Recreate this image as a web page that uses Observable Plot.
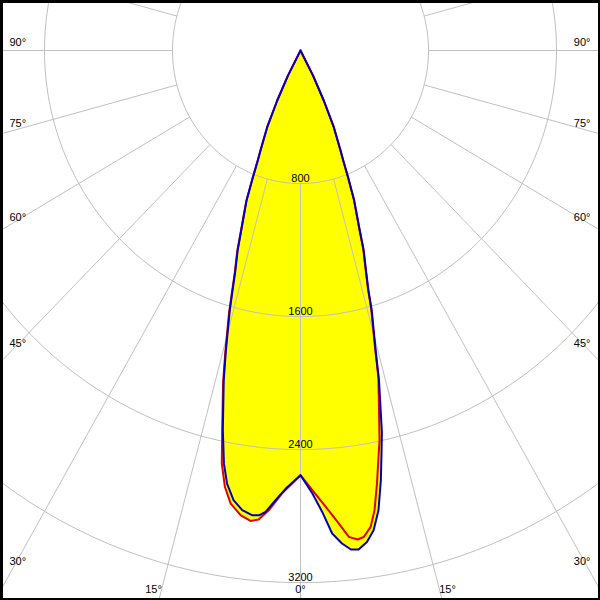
<!DOCTYPE html>
<html><head><meta charset="utf-8">
<script src="https://cdn.jsdelivr.net/npm/d3@7"></script>
<script src="https://cdn.jsdelivr.net/npm/@observablehq/plot@0.6"></script>
<style>html,body{margin:0;padding:0;background:#fff}</style>
</head><body><div id="chart"></div>
<script>
// Luminous intensity (cd) vs. gamma angle (deg), left side negative
const blueAngles = [-90, -27.5, -25.8, -24.3, -22.6, -22, -21.3, -20.5, -18.9, -18.1, -17.1, -16.4, -15.8, -14.5, -13.6, -12, -10.9, -10, -8.8, -7.5, -6.2, -5.3, -4.5, -3.3, -2, 0, 1.6, 2.8, 3.9, 5, 6, 6.9, 8, 9, 10, 11, 11.8, 12.5, 13.9, 14.6, 15.9, 16.4, 17.2, 18.2, 18.9, 20.4, 21.3, 22, 22.6, 24.3, 25.8, 27.5, 90];
const blueValues = [0, 170, 334, 506, 651, 713, 820, 963, 1144, 1264, 1384, 1504, 1624, 1862, 2040, 2335, 2530, 2644, 2736, 2788, 2811, 2807, 2783, 2709, 2636, 2554, 2665, 2778, 2911, 2976, 3017, 3023, 2984, 2921, 2807, 2632, 2476, 2350, 2042, 1863, 1625, 1504, 1384, 1265, 1144, 963, 820, 713, 651, 506, 334, 170, 0];
const redAngles = [-90, -27.5, -25.8, -24.3, -22.6, -22, -21.3, -20.5, -18.9, -18.1, -17.1, -16.4, -15.8, -14.5, -13.6, -12, -11.2, -10.2, -9.1, -7.6, -6.3, -5.3, -4.1, -2.5, 0, 1.6, 3.3, 4.8, 5.9, 6.9, 7.7, 8.7, 9.5, 10.4, 11.4, 11.9, 13.9, 14.6, 15.9, 16.4, 17.2, 18.2, 18.9, 20.4, 21.3, 22, 22.6, 24.3, 25.8, 27.5, 90];
const redValues = [0, 170, 334, 506, 651, 713, 825, 968, 1152, 1275, 1396, 1518, 1640, 1878, 2058, 2355, 2532, 2667, 2759, 2820, 2846, 2832, 2772, 2667, 2554, 2645, 2749, 2854, 2940, 2962, 2952, 2898, 2803, 2648, 2473, 2395, 2028, 1850, 1612, 1494, 1375, 1255, 1136, 958, 815, 713, 651, 506, 334, 170, 0];
const ringValues = [800, 1600, 2400, 3200];
const spokeAngles = d3.range(-180, 180, 15);
const sideLabelAngles = [90, 75, 60, 45, 30];
const bottomLabelAngles = [-15, 0, 15];

const W = 600, H = 600, cx = 300, cy = 50, kx = 0.16, ky = 0.1663;
const rad = a => a * Math.PI / 180;
const pol = (a, r) => ({x: r * Math.sin(rad(a)), y: r * Math.cos(rad(a))});

const blue = blueAngles.map((a, i) => pol(a, blueValues[i]));
const red = redAngles.map((a, i) => pol(a, redValues[i]));
const rings = ringValues.flatMap(r => d3.range(0, 361, 2).map(a => ({r, ...pol(a, r)})));
const spokes = spokeAngles.map(a => {
  const p1 = pol(a, 800), p2 = pol(a, 6000);
  return {x1: p1.x, y1: p1.y, x2: p2.x, y2: p2.y};
});
const edgeX = (cx - 18) / kx;
const sideLabels = sideLabelAngles.map(g => ({
  t: g + "°",
  y: edgeX / Math.tan(rad(g)) + (-8 + (90 - g) * 0.18) / ky
}));
const bottomY = (589 - cy) / ky;
const bottomLabels = bottomLabelAngles.map(g => ({
  t: Math.abs(g) + "°",
  x: bottomY * Math.tan(rad(g)) + Math.sign(g) * 8 / kx,
  y: bottomY
}));

const font = "Liberation Sans, Arial, sans-serif";
const chart = Plot.plot({
  width: W, height: H, margin: 0,
  x: {domain: [-cx / kx, (W - cx) / kx], range: [0, W], axis: null},
  y: {domain: [-cy / ky, (H - cy) / ky], range: [0, H], axis: null},
  style: {fontFamily: font, fontSize: "11px", background: "white", color: "black"},
  marks: [
    Plot.line(red, {x: "x", y: "y", fill: "#ffff00", stroke: "none"}),
    Plot.line(blue, {x: "x", y: "y", fill: "#ffff00", stroke: "none"}),
    Plot.text(ringValues, {x: 0, y: d => d, text: d => String(d), lineAnchor: "bottom", dy: -2, fontSize: 11, fill: "black"}),
    Plot.line(rings, {x: "x", y: "y", z: "r", stroke: "#c0c0c0", strokeWidth: 1, clip: true}),
    Plot.link(spokes, {x1: "x1", y1: "y1", x2: "x2", y2: "y2", stroke: "#c0c0c0", strokeWidth: 1, clip: true}),
    Plot.text(sideLabels, {frameAnchor: "left", y: "y", text: "t", textAnchor: "start", dx: 9, fontSize: 11, fill: "black"}),
    Plot.text(sideLabels, {frameAnchor: "right", y: "y", text: "t", textAnchor: "end", dx: -10, fontSize: 11, fill: "black"}),
    Plot.text(bottomLabels, {x: "x", y: "y", text: "t", fontSize: 11, fill: "black"}),
    Plot.line(red, {x: "x", y: "y", stroke: "#e00000", strokeWidth: 2, strokeLinejoin: "round"}),
    Plot.line(blue, {x: "x", y: "y", stroke: "#0000c0", strokeWidth: 2, strokeLinejoin: "round"}),
    Plot.frame({stroke: "black", strokeWidth: 5})
  ]
});
document.getElementById("chart").appendChild(chart);
</script>
</body></html>
